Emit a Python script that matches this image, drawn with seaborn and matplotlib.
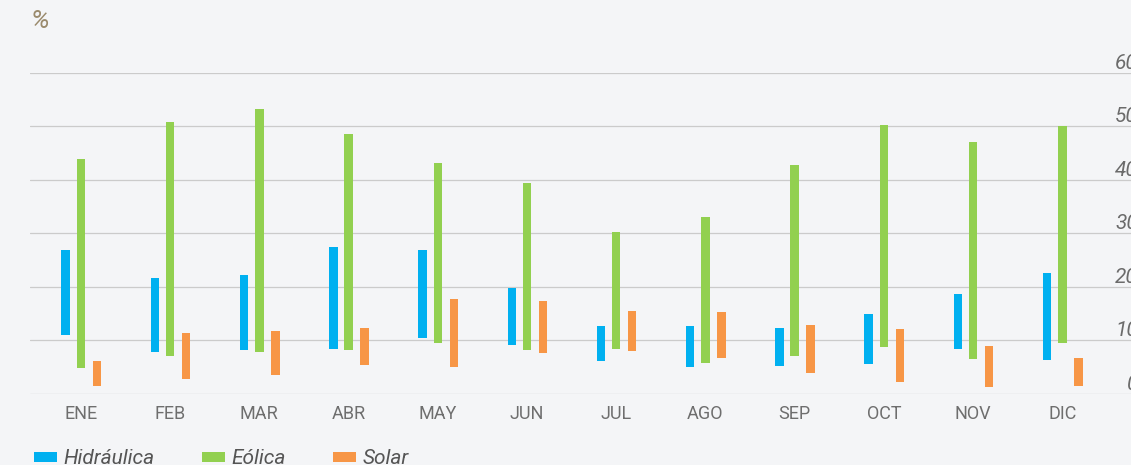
import numpy as np
import pandas as pd
import matplotlib.pyplot as plt
import seaborn as sns

# %%
# monthly ranges (min / max, %)
months = ['ENE', 'FEB', 'MAR', 'ABR', 'MAY', 'JUN', 'JUL', 'AGO', 'SEP', 'OCT', 'NOV', 'DIC']
hidraulica_min = [10.9, 7.7, 8.2, 8.3, 10.4, 9.0, 6.1, 5.0, 5.1, 5.6, 8.3, 6.3]
hidraulica_max = [26.9, 21.6, 22.1, 27.4, 26.8, 19.8, 12.7, 12.6, 12.3, 14.9, 18.6, 22.5]
eolica_min = [4.8, 7.1, 7.7, 8.1, 9.5, 8.2, 8.3, 5.7, 7.1, 8.7, 6.4, 9.5]
eolica_max = [43.9, 50.9, 53.3, 48.5, 43.1, 39.4, 30.2, 33.0, 42.7, 50.3, 47.1, 50.0]
solar_min = [1.4, 2.7, 3.4, 5.3, 4.9, 7.5, 8.0, 6.7, 3.9, 2.1, 1.2, 1.4]
solar_max = [6.0, 11.3, 11.7, 12.2, 17.7, 17.3, 15.4, 15.2, 12.9, 12.0, 8.9, 6.6]
y_ticks = [0, 10, 20, 30, 40, 50, 60]

series = ['Hidráulica', 'Eólica', 'Solar']
colors = {'Hidráulica': '#00b0f0', 'Eólica': '#92d050', 'Solar': '#f79646'}

# %%
rows = []
for name, lo, hi in [('Hidráulica', hidraulica_min, hidraulica_max),
                     ('Eólica', eolica_min, eolica_max),
                     ('Solar', solar_min, solar_max)]:
    for m, a, b in zip(months, lo, hi):
        rows.append({'mes': m, 'serie': name, 'min': a, 'max': b})
df = pd.DataFrame(rows)

# %%
bg = '#f4f5f7'
sns.set_theme(style='whitegrid', rc={
    'axes.facecolor': bg,
    'figure.facecolor': bg,
    'grid.color': '#cbcbcb',
    'grid.linewidth': 0.9,
})
plt.rcParams['font.family'] = ['Roboto', 'DejaVu Sans']

fig = plt.figure(figsize=(11.31, 4.65), dpi=100)
ax = fig.add_axes([30 / 1131, 71.5 / 465, 1101 / 1131, 320.5 / 465])

offsets = {'Hidráulica': -0.17, 'Eólica': 0.0, 'Solar': 0.18}
xpos = np.arange(len(months))
for name in series:
    d = df[df['serie'] == name]
    ax.bar(xpos + offsets[name], d['max'] - d['min'], bottom=d['min'],
           width=0.095, color=colors[name], edgecolor='none', label=name, zorder=3)

ax.set_xlim(-0.57, 11.77)
ax.set_ylim(0, 60)
ax.grid(axis='x', visible=False)
ax.grid(axis='y', visible=True, zorder=0)
sns.despine(ax=ax, left=True, bottom=True, right=True, top=True)

ax.set_xticks(xpos)
ax.set_xticklabels(months, fontsize=13, color='#6e6e6e')
ax.tick_params(axis='x', length=0, pad=8)

# right-hand labels, right aligned just past the edge (as in the original, clipped)
ax.yaxis.tick_right()
ax.set_yticks(y_ticks)
ax.set_yticklabels([str(t) for t in y_ticks], fontsize=15, color='#6b6b6b', style='italic')
ax.tick_params(axis='y', length=0, pad=5)
for lbl in ax.get_yticklabels():
    lbl.set_verticalalignment('bottom')
    lbl.set_horizontalalignment('right')

fig.text(31 / 1131, 1 - 28 / 465, '%', fontsize=19, color='#9a8a6c', style='italic',
         ha='left', va='baseline')

handles, labels = ax.get_legend_handles_labels()
leg = fig.legend(handles, labels, loc='lower left', bbox_to_anchor=(15 / 1131, -22 / 465),
                 ncol=3, frameon=False, fontsize=15, handlelength=1.1, handleheight=0.35,
                 handletextpad=0.3, columnspacing=2.3)
for t in leg.get_texts():
    t.set_style('italic')
    t.set_color('#555555')

fig.savefig('out.png', dpi=100, facecolor=bg)
